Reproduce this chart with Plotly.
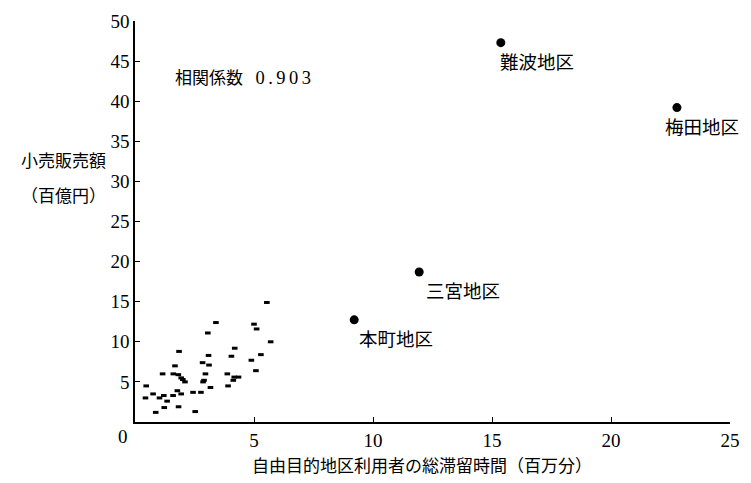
import plotly.graph_objects as go

# Small districts: total stay time of free-purpose visitors (million min) vs retail sales (10 billion yen)
small_x = [5.54, 3.40, 5.00, 5.11, 3.06, 5.70, 4.19, 1.85, 3.09, 4.05, 5.29, 4.89, 2.84, 3.11,
           1.68, 1.16, 1.61, 1.82, 1.94, 2.96, 3.88, 4.17, 4.35, 5.08, 2.01, 2.10, 2.90, 2.86,
           4.13, 0.47, 3.17, 3.91, 1.78, 1.94, 2.44, 2.77, 0.76, 1.60, 1.21, 0.44, 1.03, 1.35,
           1.23, 1.83, 0.87, 2.53]
small_y = [14.9, 12.4, 12.2, 11.6, 11.1, 10.0, 9.2, 8.8, 8.3, 8.2, 8.4, 7.7, 7.4, 7.1,
           7.0, 6.0, 6.0, 5.9, 5.5, 6.0, 6.0, 5.6, 5.6, 6.4, 5.3, 5.0, 5.2, 5.0,
           5.2, 4.5, 4.3, 4.5, 3.9, 3.5, 3.7, 3.7, 3.5, 3.3, 3.3, 3.0, 3.0, 2.6,
           1.8, 1.9, 1.2, 1.3]

# Major districts
major_names = ["難波地区", "梅田地区", "三宮地区", "本町地区"]
major_x = [15.37, 22.77, 11.94, 9.21]
major_y = [47.3, 39.2, 18.7, 12.74]
label_dx = [-3, -14, 5, 3]   # label offset (px) from each dot, left edge

x_ticks = [5, 10, 15, 20, 25]
y_ticks = [5, 10, 15, 20, 25, 30, 35, 40, 45, 50]

corr_value = "0.903"

W, H = 751, 483
L, R, T, B = 135, 11, 15, 61
FONT = "Liberation Serif, 'Noto Sans CJK JP', serif"


def px_to_paper(px, py):
    return (px - L) / (W - L - R), 1 - (py - T) / (H - T - B)


fig = go.Figure()
fig.add_trace(go.Scatter(
    x=small_x, y=small_y, mode="markers",
    marker=dict(symbol="line-ew", size=4, color="black", line=dict(width=3, color="black")),
    hoverinfo="skip", showlegend=False))
fig.add_trace(go.Scatter(
    x=major_x, y=major_y, mode="markers",
    marker=dict(symbol="circle", size=9, color="black"),
    hoverinfo="skip", showlegend=False))

for name, x, y, dx in zip(major_names, major_x, major_y, label_dx):
    fig.add_annotation(x=x, y=y, xref="x", yref="y", text=name, showarrow=False,
                       xanchor="left", yanchor="middle", xshift=dx, yshift=-20,
                       font=dict(family=FONT, size=18.5, color="black"))

corr_text = ("相関係数 <span style='letter-spacing:3.5px;font-size:18.5px'> "
             + corr_value + "</span>")
annots = [
    (corr_text, 174, 73, "left", 17),
    ("小売販売額", 62, 158, "center", 17),
    ("（百億円）", 62, 193, "center", 17),
    ("自由目的地区利用者の総滞留時間（百万分）", 427, 467, "center", 17),
    ("0", 123, 437, "center", 19),
]
for text, px, py, anchor, size in annots:
    ax, ay = px_to_paper(px, py)
    fig.add_annotation(x=ax, y=ay, xref="paper", yref="paper", text=text, showarrow=False,
                       xanchor=anchor, yanchor="middle",
                       font=dict(family=FONT, size=size, color="black"))

axis_common = dict(showgrid=False, zeroline=False, showline=True, linecolor="black",
                   linewidth=1.5, ticks="inside", ticklen=5, tickwidth=1, tickcolor="black",
                   tickfont=dict(family=FONT, size=19, color="black"), fixedrange=True)
fig.update_xaxes(range=[0, 25], tickvals=x_ticks, **axis_common)
fig.update_yaxes(range=[0, 50], tickvals=y_ticks, **axis_common)

fig.update_layout(width=W, height=H, margin=dict(l=L, r=R, t=T, b=B),
                  plot_bgcolor="white", paper_bgcolor="white",
                  font=dict(family=FONT, color="black"))

fig.write_html("out.html")
